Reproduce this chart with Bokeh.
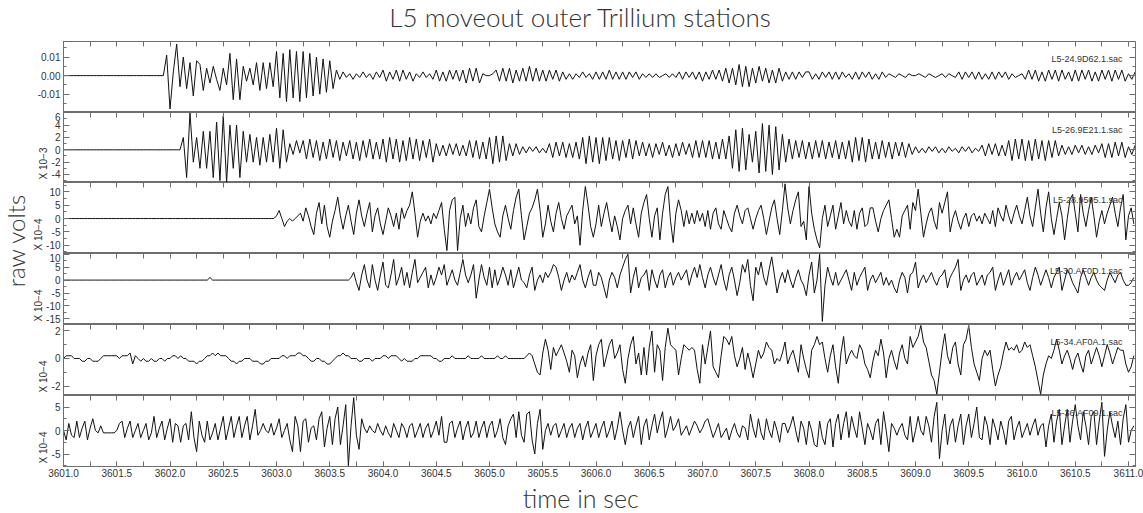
import numpy as np
from math import pi
from bokeh.plotting import figure
from bokeh.models import Range1d, LinearAxis, FixedTicker, SingleIntervalTicker, PrintfTickFormatter, Label, Title
from bokeh.layouts import row, column
from bokeh.embed import file_html
from bokeh.resources import INLINE

# ---------------------------------------------------------------- data
TITLE = "L5 moveout outer Trillium stations"
X_LABEL = "time in sec"
Y_LABEL = "raw volts"
STATIONS = ["L5-24.9D62.1.sac", "L5-26.9E21.1.sac", "L5-28.9505.1.sac",
            "L5-30.AF0D.1.sac", "L5-34.AF0A.1.sac", "L5-36.AF09.1.sac"]
EXPONENT_LABELS = ["", "X 10\u22123", "X 10\u22124", "X 10\u22124", "X 10\u22124", "X 10\u22124"]

START_TIME = 3601.0
X_TICKS_LABELLED = [3601.0, 3601.5, 3602.0, 3602.5, 3603.0, 3603.5, 3604.0, 3604.5, 3605.0, 3605.5,
                    3606.0, 3606.5, 3607.0, 3607.5, 3608.0, 3608.5, 3609.0, 3609.5, 3610.0, 3610.5, 3611.0]
X_TICKS_ALL = [3601.0, 3601.25, 3601.5, 3601.75, 3602.0, 3602.25, 3602.5, 3602.75, 3603.0, 3603.25,
               3603.5, 3603.75, 3604.0, 3604.25, 3604.5, 3604.75, 3605.0, 3605.25, 3605.5, 3605.75,
               3606.0, 3606.25, 3606.5, 3606.75, 3607.0, 3607.25, 3607.5, 3607.75, 3608.0, 3608.25,
               3608.5, 3608.75, 3609.0, 3609.25, 3609.5, 3609.75, 3610.0, 3610.25, 3610.5, 3610.75, 3611.0]

# sample interval of each trace (s)
DELTAS = [0.03125, 0.03125, 0.025, 0.025, 0.025, 0.025]
# factor from stored integers to the axis units shown
TRACE_UNITS = [1e-3, 0.25, 1.0, 1.0, 0.2, 0.5]
# axis extents (axis units)
Y_MIN = [-0.0199, -5.3, -13.1, -17.2, -2.69, -7.66]
Y_MAX = [0.0184, 6.05, 13.5, 10.3, 2.47, 7.45]
Y_TICK_STEP = [0.01, 2, 5, 5, 2, 5]
Y_TICK_FORMAT = ["%.2f", "%d", "%d", "%d", "%d", "%d"]

TRACE_1 = [
    0, 0, 0, 0, 0, 0, 0, 0, 0, 0, 0, 0, 0, 0, 0, 0, 0, 0, 0, 0, 0, 0, 0, 0, 0, 0, 0, 0, 0, 0, 0, 11,
    -18, 2, 17, -6, 10, -7, 7, -11, 8, 6, -8, 4, -4, 5, -2, -8, 4, -5, 12, -13, 9, -13, 5, -3, 4, -5, 7, -8, 7, -7, 7, -6,
    13, -12, 12, -14, 14, -12, 13, -14, 13, -12, 12, -11, 10, -10, 9, -9, 8, -7, 3, -2, 2, -1, 1, -2, 1, -1, 2, -1, 1, -2, 2, -1,
    3, -3, 2, -2, 3, -3, 3, -2, 2, -3, 1, -1, 2, -1, 1, -2, 3, -3, 2, -3, 3, -2, 3, -3, 3, -4, 4, -3, 4, -4, 1, 0,
    0, 1, 3, -3, 4, -3, 4, -4, 3, -3, 4, -3, 5, -3, 4, -3, 3, -3, 3, -2, 3, -3, 2, -2, 1, -2, 1, -1, 2, -1, 1, -2,
    2, -2, 2, -2, 3, -2, 2, -2, 2, -2, 2, -1, 2, -2, 1, -1, 1, -1, 1, -1, 0, 1, -1, 1, -1, 2, -2, 2, -1, 2, -2, 2,
    -3, 2, -2, 3, -2, 3, -3, 4, -4, 4, -5, 6, -6, 5, -6, 4, -4, 5, -3, 4, -4, 3, -4, 4, -3, 2, -2, 2, -2, 2, -1, 2,
    2, -2, 1, -2, 2, -1, 2, -2, 2, -2, 2, -1, 1, -2, 2, -2, 2, -1, 2, -2, 1, -2, 2, -1, 1, 0, -1, 1, 0, -1, 1, 0,
    0, 1, 0, -1, 1, 0, -1, 0, 1, -1, 1, 0, -1, 2, -2, 2, -1, 2, -2, 2, -2, 1, -2, 2, -2, 2, -1, 2, -2, 1, -1, 0,
    1, -2, 3, -2, 3, -3, 2, -3, 3, -2, 3, -3, 3, -2, 2, -3, 3, -3, 3, -2, 3, -3, 2, -3, 3, -2, 3, -3, 3, -2, 3, -3,
    1, -2, 2]

TRACE_2 = [
    0, 0, 0, 0, 0, 0, 0, 0, 0, 0, 0, 0, 0, 0, 0, 0, 0, 0, 0, 0, 0, 0, 0, 0, 0, 0, 0, 0, 0, 0, 0, 0,
    0, 0, 0, 0, 8, -18, 24, -8, 8, -12, 12, -12, 12, -18, 18, -20, 22, -21, 16, -12, 16, -18, 12, -8, 10, -8, 8, -10, 8, -8, 10, -8,
    14, -12, 13, -8, 4, -3, 6, -2, 6, -6, 7, -5, 6, -7, 5, -6, 7, -5, 6, -7, 5, -4, 6, -6, 5, -7, 6, -5, 7, -6, 5, -6,
    7, -8, 8, -6, 7, -8, 6, -7, 8, -6, 7, -7, 6, -5, 7, -8, 4, -4, 3, -4, 4, -3, 4, -4, 3, -4, 6, -5, 6, -6, 5, -6,
    8, -9, 9, -8, 9, -7, 4, -4, 4, -3, 2, -2, 2, -1, 2, -2, 1, -2, 4, -5, 5, -4, 5, -5, 4, -5, 5, -6, 8, -9, 9, -8,
    8, -9, 8, -7, 8, -6, 6, -7, 6, -5, 7, -6, 6, -4, 5, -4, 4, -5, 4, -3, 5, -4, 3, -5, 4, -4, 5, -3, 4, -5, 6, -5,
    6, -5, 6, -6, 5, -6, 7, -6, 9, -12, 13, -14, 14, -13, 10, -8, 12, -15, 17, -14, 16, -16, 15, -13, 10, -8, 7, -6, 6, -5, 6, -6,
    5, -6, 6, -5, 6, -6, 5, -5, 6, -6, 5, -6, 6, -8, 8, -7, 8, -8, 7, -6, 5, -6, 6, -5, 5, -6, 5, -4, 5, -5, 4, -3,
    2, -2, 1, -2, 2, -1, 2, -2, 1, -2, 2, -1, 1, -2, 2, -1, 2, -2, 1, -1, 3, -4, 4, -3, 4, -4, 3, -4, 6, -7, 7, -6,
    7, -7, 6, -7, 7, -6, 6, -7, 6, -5, 6, -4, 3, -3, 2, -3, 3, -2, 3, -3, 2, -3, 3, -2, 4, -5, 4, -5, 5, -4, 5, -5,
    2, -3, 3]

TRACE_3 = [
    0, 0, 0, 0, 0, 0, 0, 0, 0, 0, 0, 0, 0, 0, 0, 0, 0, 0, 0, 0, 0, 0, 0, 0, 0, 0, 0, 0, 0, 0, 0, 0, 0, 0, 0, 0, 0, 0, 0, 0,
    0, 0, 0, 0, 0, 0, 0, 0, 0, 0, 0, 0, 0, 0, 0, 0, 0, 0, 0, 0, 0, 0, 0, 0, 0, 0, 0, 0, 0, 0, 0, 0, 0, 0, 0, 0, 0, 0, 0, 0,
    1, 3, 0, -3, -1, 0, -1, 0, 1, 2, -1, 4, 1, -3, -6, 2, 6, -2, 5, -3, -7, -1, 3, 8, 1, -4, 1, 5, -1, -6, 2, 7, 1, -3, 2, 6, -5, 1, 4, -2,
    -6, -1, 4, 1, -3, 2, -4, 4, 0, 3, 5, 10, 2, -7, -1, 2, -1, 1, -2, 2, 0, 3, 6, -4, -12, 3, 7, 8, -12, 0, 5, -3, 2, -2, 4, 7, -3, -5, 1, 6,
    11, 4, -2, -5, -7, 1, 5, 0, -4, 3, 8, 11, 1, -8, -3, 2, 4, 7, 11, 3, -7, -2, 5, -1, -5, 2, 6, 0, -4, 1, 3, 5, -2, 1, -10, 3, 12, 5, -3, -7,
    -2, 5, -3, 2, 6, 0, -5, 1, -3, -8, 0, 3, 5, -2, 4, -2, -7, 2, 6, 9, 0, -7, 1, 4, -8, 2, 9, 12, -1, -9, 2, 7, 3, -3, 3, -2, 2, -2, 3, -1,
    2, -3, 3, -4, 2, 4, -2, -4, 3, 0, -3, -5, 2, 5, 1, -2, 3, 4, 0, -4, 0, 3, 5, 0, -6, -1, 4, 7, 0, -6, 3, 13, 4, -2, 3, 7, 10, -3, -1, -8,
    12, 2, -4, -8, -11, 0, 5, -3, 1, 5, -4, 1, 6, -2, 3, -1, -3, 3, -4, 2, 4, -3, -2, 4, 4, -1, -5, 0, 3, 5, 7, 0, -7, -4, -7, 1, 3, 5, -4, 6,
    3, 11, 2, -7, -2, 2, 4, -1, -4, 6, 2, 6, 10, -5, 0, 3, -1, -4, 0, 2, -3, 1, 2, -1, 1, -2, 2, 0, -2, 3, -3, 4, 1, -1, 5, 1, -2, 2, 5, 1,
    -2, 3, 8, 1, -3, 4, 11, 2, -5, 4, 10, 0, -6, 0, 6, 1, -8, 0, 7, 9, 2, -5, 9, 2, -3, 3, 8, 1, -7, -1, 3, -2, 2, 5, 8, 2, -3, 4, 9, -8,
    1, 4, -2]

TRACE_4 = [
    0, 0, 0, 0, 0, 0, 0, 0, 0, 0, 0, 0, 0, 0, 0, 0, 0, 0, 0, 0, 0, 0, 0, 0, 0, 0, 0, 0, 0, 0, 0, 0, 0, 0, 0, 0, 0, 0, 0, 0,
    0, 0, 0, 0, 0, 0, 0, 0, 0, 0, 0, 0, 0, 0, 0, 1, 0, 0, 0, 0, 0, 0, 0, 0, 0, 0, 0, 0, 0, 0, 0, 0, 0, 0, 0, 0, 0, 0, 0, 0,
    0, 0, 0, 0, 0, 0, 0, 0, 0, 0, 0, 0, 0, 0, 0, 0, 0, 0, 0, 0, 0, 0, 0, 0, 0, 0, 0, 0, 1, 3, -1, -4, 2, 6, 0, -3, 6, 0, -4, 2,
    7, -2, -3, 2, 8, -2, 1, 5, -2, 3, -3, 3, 8, -1, 1, 3, 5, -3, 2, -2, 1, 5, 2, 6, -2, 1, 4, 0, -2, 3, 8, 2, -1, 2, 6, -7, 0, 6, 1, -2,
    5, -3, 4, -2, 1, 5, 2, -2, 4, -3, 1, 5, 0, -1, -3, 2, 5, -4, 0, 2, -1, 3, 1, 3, 6, 5, 1, -4, 0, 3, -1, 2, 0, 3, 6, 0, -3, 1, 4, -2,
    -2, 3, 1, -3, -7, 0, 3, 1, -3, 2, 5, 8, 10, -5, 1, 5, -3, 1, 2, 4, -4, 4, 0, -3, 2, 4, -3, 1, 3, -2, 1, 3, 0, 2, 4, -2, 2, 5, 1, 6,
    1, -3, 2, 5, 1, -2, 2, 6, 0, -4, 2, 5, 0, -6, -1, 6, 3, 8, -2, -8, 5, 2, 7, 1, -2, 4, 9, 2, -5, 0, 3, -1, 4, 0, -3, 1, 4, 0, -2, -6,
    2, 7, -5, 0, 10, -16, -2, 5, 1, -2, 3, -2, 0, 2, 4, 0, -4, 3, -2, 1, 3, 5, -4, 0, 2, -1, 1, 3, -2, 1, -2, 0, -3, -5, 0, 3, 1, -5, 2, 3,
    7, -3, 0, 2, -1, 1, 3, 0, -2, 1, 2, 4, -3, 1, 3, 5, 8, -4, 0, 2, -1, 2, 3, -2, 0, 2, -2, 2, 3, 5, -4, 0, 3, -2, 1, 4, -2, 1, 3, 0,
    2, 4, -1, -4, 1, 5, 2, -2, 1, 4, 1, -3, 1, 3, 5, -4, 0, 4, 2, -1, -3, -5, 1, 4, 1, -2, 1, 3, 0, -2, -3, -4, 0, 3, 1, -1, 2, 3, 0, -2,
    -2, -1, 1]

TRACE_5 = [
    0, 1, 1, 1, 0, 0, 0, -1, -1, 0, 0, -1, -1, -1, 0, 1, 1, 1, 1, 1, 1, 0, 1, 1, 1, 2, -2, 1, 0, -1, 0, -1, -1, 0, -1, -1, 0, 0, -1, 0,
    0, 1, 1, 0, 1, 0, 0, -1, -1, -1, -2, -1, -1, 0, 1, 1, 2, 1, 2, 1, 1, 1, 0, -1, -1, -2, -1, -1, 0, 0, 0, -1, -1, -1, -2, -2, -1, -1, 0, 0,
    0, 0, 1, 1, 0, 1, 1, 1, 2, 2, 1, 1, 0, -1, -1, 0, 0, -1, -1, -2, -2, -1, 0, 1, 1, 2, 1, 1, 0, 0, 0, -1, -1, 0, 0, 0, -1, 0, 0, 0,
    1, 1, 0, 1, 1, 1, 0, -1, 0, -1, -1, -1, 0, 0, 1, 1, 1, 1, 1, 0, 0, -1, -1, 0, 0, 0, 1, 0, 0, 0, 0, 0, 1, 0, 0, 0, 0, 1, 0, 0,
    0, 0, 0, 1, 0, 0, 1, 0, 0, 0, 0, 0, 0, 0, 1, 2, 1, -2, -5, -6, 2, 7, 3, -4, 4, 1, 3, 5, 2, -1, -5, 3, 1, -7, -2, 1, -3, 2, 5, -8,
    1, 5, 7, -3, 1, 5, 7, 0, 2, 5, -4, -9, 0, 5, 8, -2, 2, -6, 4, -6, 4, 10, -5, 5, 3, -8, 4, 11, 5, 4, 3, -6, 0, 5, 4, 3, 4, 3, -4, -9,
    5, -2, 4, 10, -3, -5, -7, 1, 8, 7, 5, 8, 1, -3, 0, 4, -4, 2, -2, -7, -2, 3, 0, 2, 6, 4, 3, -2, 0, -1, 2, 6, -2, 1, 3, -1, -5, 5, 0, -4,
    -7, 3, 5, 8, 5, 6, 0, -5, 1, 5, -3, -9, 2, 8, -2, 1, 3, 1, 0, 5, 3, -2, -4, -7, -1, 3, 1, 7, 2, -7, 0, 3, -1, -4, 2, 5, 0, -2, 8, 4,
    6, 8, 12, 6, 4, -1, -6, -8, -13, -5, 3, 9, 1, -2, 4, 6, -2, -6, 5, 7, 12, 4, -2, -5, -8, 0, 3, 1, 3, -4, -10, -6, -3, 2, 6, 3, 4, 3, 5, 2,
    3, 6, 4, 5, 1, -3, -8, -13, -6, -2, 1, 0, 3, 7, 3, -2, 1, 3, 0, -4, 0, 2, -2, -5, 1, 3, -2, 1, 4, 1, -3, 1, 5, 2, -2, 1, 4, 3, 3, -2,
    -5, -3, 1]

TRACE_6 = [
    0, -4, 3, -2, -3, 4, -3, 1, 4, -4, 1, 5, 0, -1, 2, -1, -1, -1, -1, -1, 0, 3, 4, -3, 1, 4, -3, 0, 3, -3, 0, 3, -4, -1, 6, -3, 1, 4, -4, 1,
    5, -5, 3, 2, -5, 2, 3, -4, 8, -3, -9, 4, -2, -5, 4, -4, -1, 3, -4, 1, 6, -4, 1, 6, -3, 2, 6, -3, 2, 6, -4, 2, 9, -2, 0, 3, 0, -1, 3, -2,
    1, 5, -3, 0, 3, -4, -9, 6, 2, -9, 4, 5, -5, 1, 2, -4, 5, 8, -7, 1, 6, -6, 5, 10, -6, 2, 11, -15, 2, 14, -2, -8, 5, 1, -1, 2, 0, -1, 3, 0,
    -2, 2, -1, -3, 3, 0, -3, 3, 1, -3, 2, 3, -3, 0, 3, -3, 1, 3, -3, 0, 4, -2, 6, -5, -5, 3, 4, -3, 1, 4, -4, 1, 4, -3, -1, 4, -3, 1, 4, -3,
    2, 4, -3, 0, 5, -3, -6, 2, 5, 7, -3, 8, -2, -5, 7, 8, -4, -10, 3, 9, -8, 0, 3, -2, 2, 3, -3, 0, 3, -3, 1, 3, -3, 1, 3, -4, 1, 4, -3, 0,
    3, -3, 1, 4, -3, 0, 4, -4, 1, 8, 0, -6, 1, 4, -3, 2, 6, -6, 2, 5, -4, 2, 7, -1, 4, 8, -3, 1, 6, 0, 2, 5, -2, 0, 2, -2, 1, 4, 2, -1,
    1, 4, 5, 1, -3, 0, 3, -3, -1, 1, -4, 0, 3, -1, -3, 2, 1, -4, 7, 1, -3, 5, -1, -4, 5, 0, -3, 4, 0, -5, 3, 3, -1, 2, 6, 0, -5, 4, 1, -6,
    4, 0, -6, -7, 4, -3, -6, 3, 5, -7, 3, 7, -4, 3, 8, -3, 6, 1, -3, 8, 1, -6, 3, 0, -4, 3, 5, -6, 8, 0, -9, 3, 1, -2, 1, 3, -2, -4, 6, -5,
    0, 6, 0, -2, 6, 2, -5, 6, 12, -12, 0, 7, -6, 2, 5, -5, 2, 7, -6, 2, 7, -3, 3, 10, -3, -4, 6, 2, -6, 5, 1, -4, 4, 0, -6, 4, 6, -4, 1, 4,
    -3, 0, 3, -2, 2, 5, -2, 2, 3, -7, 2, 7, -5, 4, 9, -6, 2, 9, -5, 4, 11, 2, -4, 8, 2, -6, 6, 8, -6, 4, 12, -11, 0, 8, 2, -3, 4, -6, 5, 11,
    -5, 0, 2]

TRACES = [TRACE_1, TRACE_2, TRACE_3, TRACE_4, TRACE_5, TRACE_6]

# ---------------------------------------------------------------- layout / style
WIN_W, WIN_H = 1143, 513
LEFT_STRIP = 30              # narrow figure carrying the "raw volts" label
TOP_STRIP = 41               # figure carrying the title
BOTTOM_STRIP = 32            # figure carrying the x label
FRAME_LEFT, FRAME_RIGHT = 62, 1135
FRAME_H = [71, 70, 71, 71, 71, 71]
TICK_LABEL_BORDER = WIN_H - TOP_STRIP - sum(FRAME_H) - BOTTOM_STRIP
PX_PER_SEC = 106.6
X_END = START_TIME + (FRAME_RIGHT - FRAME_LEFT) / PX_PER_SEC
COL_W = WIN_W - LEFT_STRIP
LABEL_CENTER_X = 567         # horizontal centre of title and x label (window pixels)

FONT = "Liberation Sans"
BIG_FONT = "Lato Light, Liberation Sans"
TEXT_COLOR = "#333333"
FRAME_COLOR = "#6e6e6e"
TRACE_COLOR = "#111111"

axis_common = dict(axis_line_color=FRAME_COLOR, major_tick_line_color=FRAME_COLOR,
                   minor_tick_line_color=FRAME_COLOR, major_tick_out=0, minor_tick_out=0)
no_labels = dict(major_label_standoff=0, major_label_text_font_size="0px", major_label_text_color=None)


def strip(width, height):
    f = figure(width=width, height=height, x_range=Range1d(0, width), y_range=Range1d(0, height),
               output_backend="svg", toolbar_location=None, x_axis_location=None, y_axis_location=None,
               min_border_left=0, min_border_right=0, min_border_top=0, min_border_bottom=0)
    f.outline_line_color = None
    f.xgrid.visible = False
    f.ygrid.visible = False
    return f


# title strip (pixel coordinates, y measured upward)
top = strip(COL_W, TOP_STRIP)
top.add_layout(Label(x=LABEL_CENTER_X - LEFT_STRIP, y=TOP_STRIP - 16, text=TITLE, text_align="center",
                     text_baseline="middle", text_font=BIG_FONT, text_font_size="26px",
                     text_color=TEXT_COLOR))

# x-label strip
bottom = strip(COL_W, BOTTOM_STRIP)
bottom.add_layout(Label(x=LABEL_CENTER_X - LEFT_STRIP, y=16, text=X_LABEL,
                        text_align="center", text_baseline="middle", text_font=BIG_FONT,
                        text_font_size="25px", text_color=TEXT_COLOR))

# y-label strip
left = strip(LEFT_STRIP, WIN_H)
left.add_layout(Label(x=15, y=WIN_H - 240, text=Y_LABEL, angle=pi / 2, text_align="center",
                      text_baseline="middle", text_font=BIG_FONT, text_font_size="24px",
                      text_color=TEXT_COLOR))

panels = []
for k in range(6):
    fh = FRAME_H[k]
    bb = TICK_LABEL_BORDER if k == 5 else 0
    p = figure(width=COL_W, height=fh + bb,
               x_range=Range1d(START_TIME, X_END), y_range=Range1d(Y_MIN[k], Y_MAX[k]),
               output_backend="svg", toolbar_location=None,
               x_axis_location=None, y_axis_location=None,
               min_border_left=FRAME_LEFT - LEFT_STRIP, min_border_right=WIN_W - FRAME_RIGHT,
               min_border_top=0, min_border_bottom=bb)
    p.outline_line_color = FRAME_COLOR
    p.background_fill_color = "white"
    p.border_fill_color = "white"
    p.xgrid.visible = False
    p.ygrid.visible = False

    # left axis with labels, ticks pointing inwards
    p.add_layout(LinearAxis(ticker=SingleIntervalTicker(interval=Y_TICK_STEP[k], num_minor_ticks=2),
                            formatter=PrintfTickFormatter(format=Y_TICK_FORMAT[k]),
                            major_tick_in=6, minor_tick_in=3, major_label_standoff=3,
                            major_label_text_font=FONT, major_label_text_font_size="10px",
                            major_label_text_color=TEXT_COLOR, **axis_common), "left")
    # scale exponent, written at the bottom of the panel, outside the tick labels
    if EXPONENT_LABELS[k]:
        p.add_layout(Title(text=EXPONENT_LABELS[k], align="left", offset=3, standoff=0,
                           text_font=FONT, text_font_size="10px", text_font_style="normal",
                           text_color=TEXT_COLOR), "left")
    # mirrored right ticks
    p.add_layout(LinearAxis(ticker=SingleIntervalTicker(interval=Y_TICK_STEP[k], num_minor_ticks=2),
                            major_tick_in=6, minor_tick_in=3, **no_labels, **axis_common), "right")
    # top ticks every 0.25 s
    p.add_layout(LinearAxis(ticker=FixedTicker(ticks=X_TICKS_ALL), major_tick_in=5,
                            **no_labels, **axis_common), "above")
    if k == 5:
        p.add_layout(LinearAxis(ticker=FixedTicker(ticks=X_TICKS_LABELLED, minor_ticks=X_TICKS_ALL),
                                formatter=PrintfTickFormatter(format="%.1f"),
                                major_tick_in=5, minor_tick_in=5, major_label_standoff=2,
                                major_label_text_font=FONT, major_label_text_font_size="10px",
                                major_label_text_color=TEXT_COLOR, **axis_common), "below")

    vals = np.array(TRACES[k], dtype=float) * TRACE_UNITS[k]
    t = START_TIME + np.arange(len(vals)) * DELTAS[k]
    p.line(t, vals, line_color=TRACE_COLOR, line_width=1)

    ypp = (Y_MAX[k] - Y_MIN[k]) / fh      # data units per pixel
    xpp = 1.0 / PX_PER_SEC
    p.add_layout(Label(x=START_TIME + (1122 - FRAME_LEFT) * xpp, y=Y_MAX[k] - 17 * ypp,
                       text=STATIONS[k], text_align="right", text_baseline="middle",
                       text_font=FONT, text_font_size="9px", text_color=TEXT_COLOR))
    panels.append(p)

layout = row(left, column(top, *panels, bottom, spacing=0), spacing=0)

with open("out.html", "w") as f:
    f.write(file_html(layout, INLINE))
